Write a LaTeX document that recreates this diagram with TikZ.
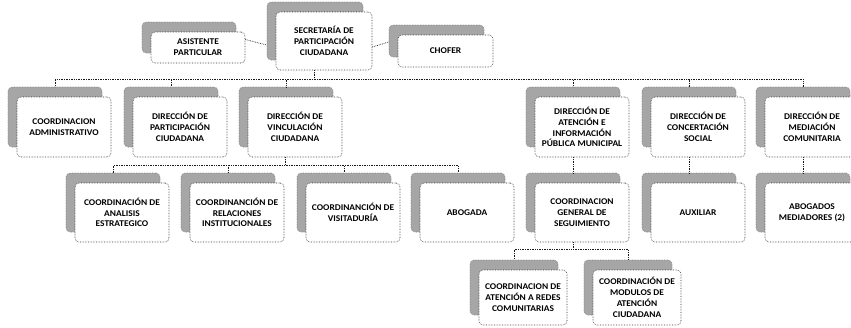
\documentclass[tikz,border=0pt]{standalone}
\usepackage{fontspec}
\setmainfont{Carlito}[FakeStretch=1.07]
\usetikzlibrary{shadows}

\begin{document}
\begin{tikzpicture}[x=1pt,y=-1pt]
% stile dei riquadri con ombra grigia
\tikzset{mybox/.style={rectangle, rounded corners=4pt, draw=black!80, densely dotted, line width=0.6pt, fill=white,
  minimum width=94pt, minimum height=#1, inner sep=1pt, align=center, text=black,
  font=\fontsize{8.8}{10.8}\selectfont\bfseries,
  copy shadow={shadow xshift=-9pt, shadow yshift=10pt, fill=black!35, draw=black!50, densely dotted}}}
\tikzset{mybox/.default=60pt}
% stile delle linee di collegamento
\tikzset{myline/.style={densely dotted, line width=0.7pt, black!90}}

\useasboundingbox (0,0) rectangle (851,327);

%----
% primo livello
\node[mybox=58pt, minimum width=96pt] (sec) at (324,41) {SECRETARÍA DE\\PARTICIPACIÓN\\CIUDADANA};
\node[mybox=31pt] (asis) at (198,47.5) {ASISTENTE\\PARTICULAR};
\node[mybox=32pt, minimum width=95pt] (chofer) at (445.5,51) {CHOFER};

% secondo livello
\foreach \nome/\x/\testo in {admin/64/{COORDINACION\\ADMINISTRATIVO},
  partic/180/{DIRECCIÓN DE\\PARTICIPACIÓN\\CIUDADANA},
  vincul/295/{DIRECCIÓN DE\\VINCULACIÓN\\CIUDADANA},
  atenc/582/{DIRECCIÓN DE\\ATENCIÓN E\\INFORMACIÓN\\PÚBLICA MUNICIPAL},
  concert/698/{DIRECCIÓN DE\\CONCERTACIÓN\\SOCIAL},
  mediac/812/{DIRECCIÓN DE\\MEDIACIÓN\\COMUNITARIA}}
\node[mybox] (\nome) at (\x,127) {\testo};

% terzo livello
\foreach \nome/\x/\testo in {analisis/122/{COORDINACIÓN DE\\ANALISIS\\ESTRATEGICO},
  relac/237/{COORDINANCIÓN DE\\RELACIONES\\INSTITUCIONALES},
  visit/353/{COORDINANCIÓN DE\\VISITADURÍA},
  abogada/467/{ABOGADA},
  segui/582/{COORDINACION\\GENERAL DE\\SEGUIMIENTO},
  auxil/698/{AUXILIAR},
  abogados/812/{ABOGADOS\\MEDIADORES (2)}}
\node[mybox=59pt] (\nome) at (\x,212.5) {\testo};

% quarto livello
\node[mybox=55pt, minimum width=88pt] (redes) at (523,297.5) {COORDINACION DE\\ATENCIÓN A REDES\\COMUNITARIAS};
\node[mybox=55pt, minimum width=88pt] (modulos) at (637,297.5) {COORDINACIÓN DE\\MODULOS DE\\ATENCIÓN\\CIUDADANA};

% collegamenti laterali
\draw[myline] ([yshift=8pt]asis.east) -- ([shift={(-9pt,-4pt)}]sec.west);
\draw[myline] ([yshift=-6pt]sec.east) -- ([shift={(-9pt,9pt)}]chofer.west);

% collegamenti ad albero
\foreach \figlio in {admin,partic,vincul,atenc,concert,mediac}
\draw[myline] ([xshift=-10pt]sec.south) -- ++(0,-9pt) -| ([shift={(-9pt,10pt)}]\figlio.north);
\foreach \figlio in {analisis,relac,visit,abogada}
\draw[myline] ([xshift=-10pt]vincul.south) -- ++(0,-8pt) -| ([shift={(-9pt,10pt)}]\figlio.north);
\foreach \padre/\figlio in {atenc/segui,concert/auxil,mediac/abogados}
\draw[myline] ([xshift=-9pt]\padre.south) -- ([shift={(-9pt,10pt)}]\figlio.north);
\foreach \figlio in {redes,modulos}
\draw[myline] ([xshift=-9pt]segui.south) -- ++(0,-7pt) -| ([shift={(-9pt,10pt)}]\figlio.north);
\end{tikzpicture}
\end{document}
